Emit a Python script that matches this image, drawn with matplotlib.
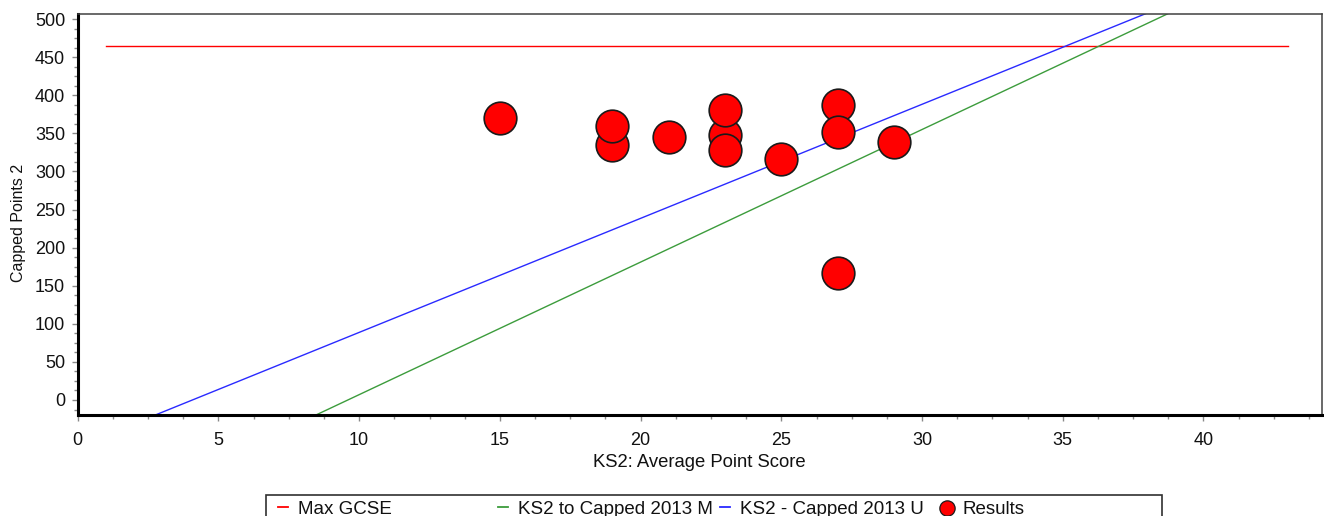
import numpy as np
import matplotlib
matplotlib.use('Agg')
import matplotlib.pyplot as plt
from matplotlib.lines import Line2D
from matplotlib.patches import Rectangle
from matplotlib.ticker import MultipleLocator

# ---- data ----
ks2_scores = [15, 19, 19, 21, 23, 23, 23, 25, 27, 27, 27, 29]
capped_points = [370, 335, 359, 345, 348, 381, 328, 316, 387, 352, 167, 339]

max_gcse = 464
max_gcse_range = [1, 43]

# trend lines (slope, intercept)
upper_slope, upper_intercept = 14.97, -61.0     # KS2 - Capped 2013 U (blue)
median_slope, median_intercept = 17.4, -167.0   # KS2 to Capped 2013 M (green)

legend_labels = ["Max GCSE", "KS2 to Capped 2013 M", "KS2 - Capped 2013 U", "Results"]
x_label = "KS2: Average Point Score"
y_label = "Capped Points 2"

# ---- figure ----
plt.rcParams['font.family'] = ['Liberation Sans', 'DejaVu Sans']
W, H = 1324, 516
fig = plt.figure(figsize=(W / 100, H / 100), dpi=100)
ax = fig.add_axes([77.7 / W, (H - 415) / H, (1321.7 - 77.7) / W, (415 - 14) / H])
xmax = 44.2
ax.set_xlim(0, xmax)
ax.set_ylim(-19.7, 506.6)

red, green, blue = '#ff0000', '#3c9c3c', '#2a2aff'
xline = np.array([0, xmax])
ax.plot(max_gcse_range, [max_gcse, max_gcse], color=red, lw=1.0, zorder=2)
ax.plot(xline, median_slope * xline + median_intercept, color=green, lw=1.0, zorder=2)
ax.plot(xline, upper_slope * xline + upper_intercept, color=blue, lw=1.0, zorder=2)
ax.scatter(ks2_scores, capped_points, s=23.5 ** 2, c=red, edgecolors='#1a1a1a',
           linewidths=1.2, zorder=3)

# spines
for s in ['left', 'bottom']:
    ax.spines[s].set_linewidth(2.2)
    ax.spines[s].set_color('black')
for s in ['top', 'right']:
    ax.spines[s].set_linewidth(1.1)
    ax.spines[s].set_color('#404040')

# ticks
ax.xaxis.set_major_locator(MultipleLocator(5))
ax.xaxis.set_minor_locator(MultipleLocator(1.25))
ax.yaxis.set_major_locator(MultipleLocator(50))
ax.yaxis.set_minor_locator(MultipleLocator(12.5))
ax.tick_params(which='both', direction='out', color='#8a8a8a', width=1,
               top=False, right=False, labelsize=13, labelcolor='#111111')
ax.tick_params(which='major', length=4)
ax.tick_params(which='minor', length=3)
ax.tick_params(axis='x', which='major', pad=8)
ax.tick_params(axis='y', which='major', pad=5)

ax.set_xlabel(x_label, fontsize=13.3, labelpad=4, color='#111111')
ax.set_ylabel(y_label, fontsize=11.5, color='#111111')
ax.yaxis.set_label_coords(-0.0415, 0.479)

# ---- legend (drawn as a boxed row at the bottom) ----
def fx(px):
    return px / W

def fy(py):
    return (H - py) / H

fig.add_artist(Rectangle((fx(266), -0.1), fx(1162) - fx(266), fy(495) + 0.1,
                         transform=fig.transFigure, fill=False, ec='#303030',
                         lw=1.2, clip_on=False))
colors = [red, green, blue]
text_x = [298, 518, 740, 962]
dash_y = 507
for i, c in enumerate(colors):
    x1 = text_x[i] - 10
    fig.add_artist(Line2D([fx(x1 - 10), fx(x1)], [fy(dash_y), fy(dash_y)],
                          transform=fig.transFigure, color=c, lw=1.3))
fig.add_artist(Line2D([fx(947)], [fy(508)], transform=fig.transFigure, marker='o',
                      ms=11, mfc=red, mec='#1a1a1a', mew=0.9, ls='none'))
for lx, lab in zip(text_x, legend_labels):
    fig.text(fx(lx), fy(513.5), lab, fontsize=13.5, va='baseline', ha='left',
             color='#111111')

fig.savefig('out.png', dpi=100)
